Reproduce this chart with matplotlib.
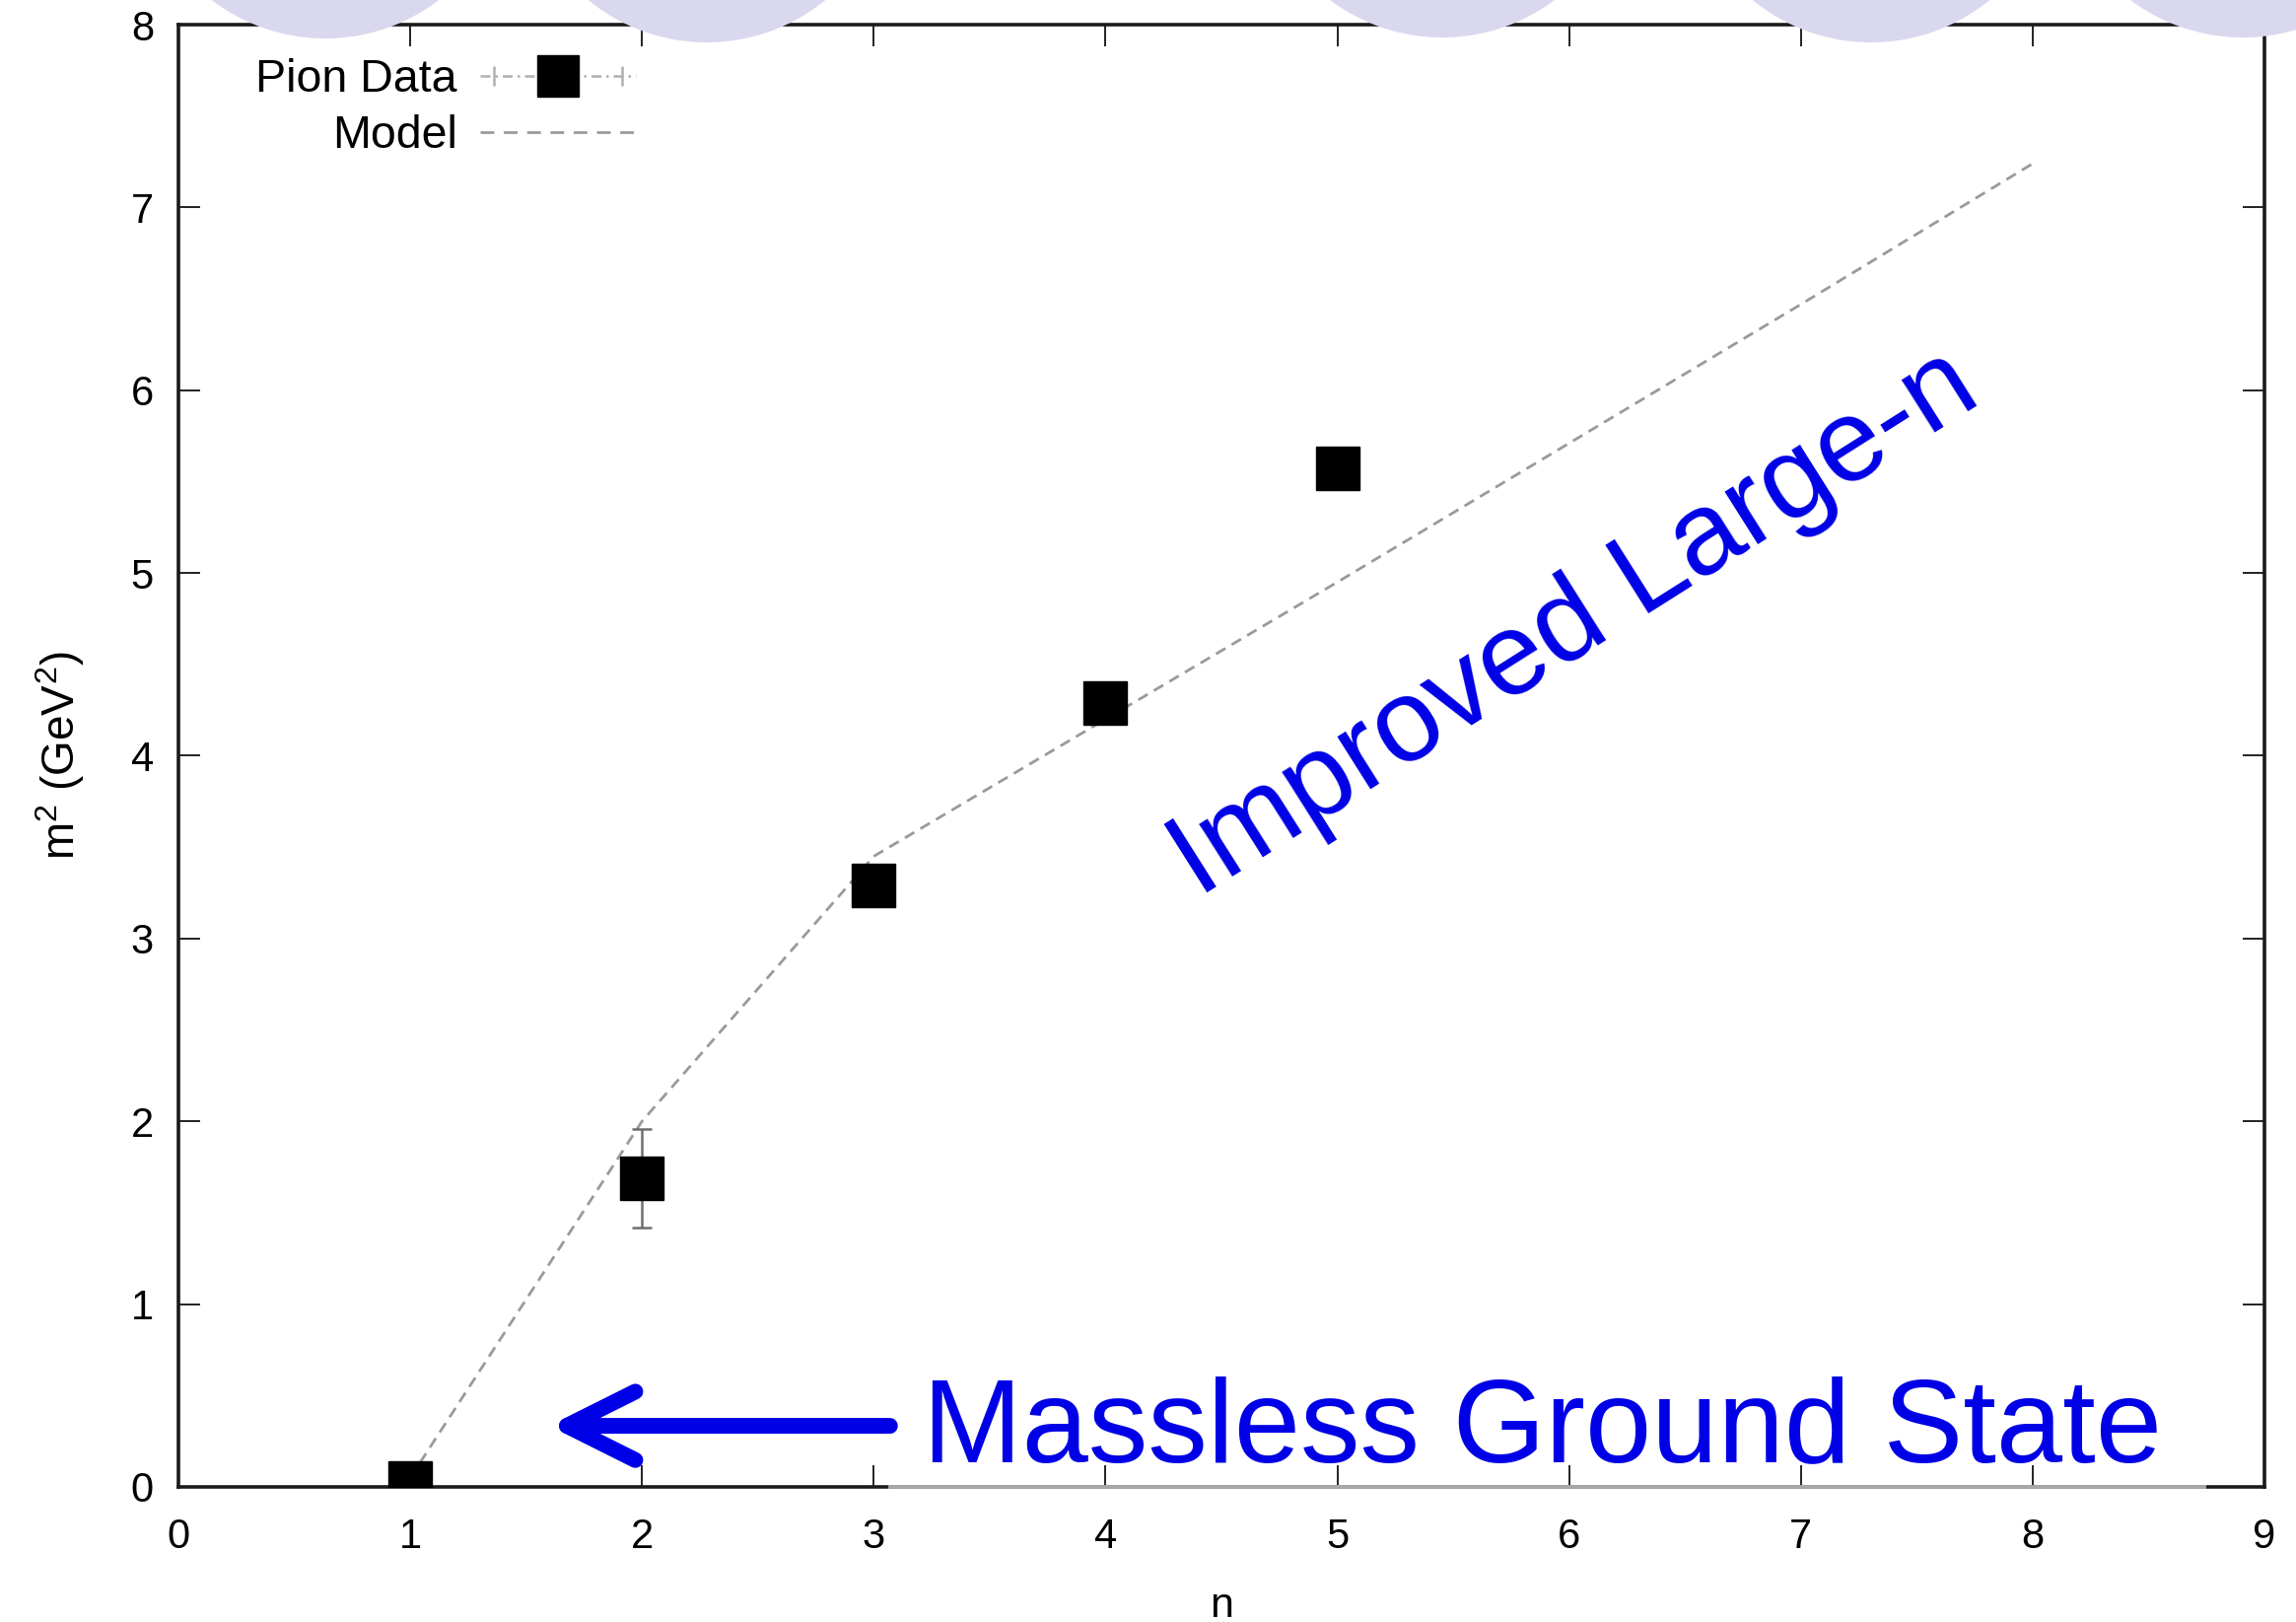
import matplotlib
matplotlib.use("Agg")
import matplotlib.pyplot as plt
from matplotlib.lines import Line2D
from matplotlib.patches import Ellipse
from matplotlib.legend_handler import HandlerLine2D

plt.rcParams['font.family'] = ['Liberation Sans', 'DejaVu Sans']
plt.rcParams['mathtext.fontset'] = 'custom'
plt.rcParams['mathtext.rm'] = 'Liberation Sans'
plt.rcParams['mathtext.it'] = 'Liberation Sans'

# data
n_data = [1, 2, 3, 4, 5]
m2_data = [0.02, 1.69, 3.29, 4.29, 5.57]
m2_err = [0.0, 0.27, 0.0, 0.0, 0.0]

n_model = [1, 2, 3, 4, 5, 6, 7, 8]
m2_model = [0.05, 2.0, 3.45, 4.2, 4.95, 5.71, 6.47, 7.24]

x_ticks = list(range(0, 10))
y_ticks = list(range(0, 9))

blue = '#0000e6'
grey = '#9a9a9a'

fig = plt.figure(figsize=(23.29, 16.45), dpi=100)

# lavender slide decoration at the top edge
for cx, bottom in [(330, 39), (717, 43), (1463, 38), (1898, 43), (2275, 38)]:
    r = 190
    fig.patches.append(Ellipse(((cx) / 2329, 1 - (bottom - r) / 1645),
                               2 * r / 2329, 2 * r / 1645,
                               transform=fig.transFigure,
                               facecolor='#d9d8ee', edgecolor='none', zorder=0))

ax = fig.add_axes([0.0777, 0.0833, 0.9086, 0.9015])
ax.patch.set_alpha(0)

# model line
ax.plot(n_model, m2_model, color=grey, lw=2.0, dashes=(4, 2.6), zorder=2)

# pion data with error bars
ax.errorbar(n_data, m2_data, yerr=m2_err, fmt='none', ecolor='#6e6e6e',
            elinewidth=1.8, capsize=7, capthick=1.8, zorder=3)
ax.plot(n_data, m2_data, 's', color='black', markersize=32, zorder=4)

ax.set_xlim(0, 9)
ax.set_ylim(0, 8)
ax.set_xticks(x_ticks)
ax.set_yticks(y_ticks)
ax.tick_params(direction='in', length=16, width=1.4, top=True, right=True,
               labelsize=30, color='#222222')
ax.tick_params(axis='x', pad=22)
ax.tick_params(axis='y', pad=18)
for s in ax.spines.values():
    s.set_linewidth(2.6)
    s.set_color('#1a1a1a')

# greyed part of the bottom frame as in the picture
ax.plot([3.07, 8.74], [0, 0], color='#a8a8a8', lw=2.8, clip_on=False, zorder=5)

ax.set_xlabel('n', fontsize=31)
ax.set_ylabel('m$^2$ (GeV$^2$)', fontsize=33)
ax.xaxis.set_label_coords(0.5, -0.068)
ax.yaxis.set_label_coords(-0.044, 0.5)

# legend in gnuplot style (text on the left, samples on the right)
pion_line = Line2D([], [], color='#b0b0b0', lw=1.8, dashes=(4, 2, 1, 2))
pion_caps = Line2D([], [], color='#b0b0b0', lw=0, marker='|',
                   markersize=14, markeredgewidth=1.8)
pion_mark = Line2D([], [], color='black', lw=0, marker='s', markersize=30)
model_key = Line2D([], [], color=grey, lw=2.0, dashes=(5, 3.5))
leg = ax.legend([(pion_line, pion_caps, pion_mark), model_key],
                ['Pion Data', 'Model'],
                handler_map={pion_caps: HandlerLine2D(numpoints=2)},
                loc='upper left', bbox_to_anchor=(0.037, 0.977),
                markerfirst=False, frameon=False, fontsize=33.5,
                handlelength=3.4, handletextpad=0.5, labelspacing=0.28,
                borderpad=0, borderaxespad=0)

# annotations
ax.annotate('', xy=(1.60, 0.334), xytext=(3.07, 0.334),
            arrowprops=dict(arrowstyle='->,head_length=2.5,head_width=1.25',
                            lw=11.5, color=blue, mutation_scale=20,
                            shrinkA=0, shrinkB=0, capstyle='round'))
ax.text(3.21, 0.14, 'Massless Ground State', color=blue, fontsize=87,
        ha='left', va='baseline')
ax.text(4.40, 3.22, 'Improved Large-n', color=blue, fontsize=86,
        rotation=32.3, rotation_mode='anchor', ha='left', va='baseline')

fig.savefig('out.png', dpi=100)
